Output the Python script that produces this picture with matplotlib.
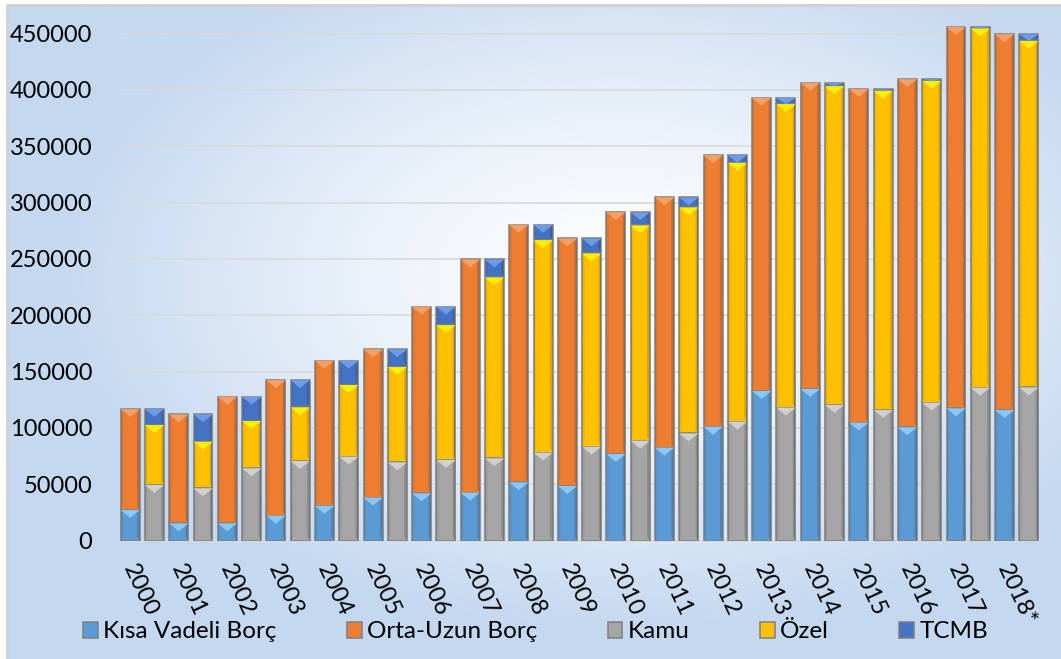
import numpy as np
import matplotlib.pyplot as plt
from matplotlib.patches import Patch, Polygon
from matplotlib.transforms import ScaledTranslation

plt.rcParams['font.family'] = ['Lato', 'DejaVu Sans']

# External debt stock by maturity and by borrower (million USD)
years = ['2000', '2001', '2002', '2003', '2004', '2005', '2006', '2007', '2008', '2009',
         '2010', '2011', '2012', '2013', '2014', '2015', '2016', '2017', '2018*']
kisa_vadeli = [27200, 15400, 15400, 22200, 31000, 38200, 42000, 42600, 51800, 48500,
               76900, 82500, 101100, 132800, 134600, 104700, 100600, 117400, 115900]
orta_uzun = [89600, 96700, 112300, 120300, 128700, 131600, 165600, 207000, 228500, 219700,
             214600, 222100, 241000, 260200, 271700, 296000, 308900, 338500, 333500]
kamu = [49400, 46500, 64200, 70700, 74500, 69500, 71600, 73100, 78100, 83400,
        88700, 95200, 105600, 118000, 120400, 115900, 122400, 135700, 136000]
ozel = [53200, 41300, 42000, 47600, 63600, 84600, 119700, 160500, 188600, 171500,
        191000, 200500, 229700, 269400, 282900, 283300, 285600, 318800, 307500]
tcmb = [14200, 24300, 21500, 24200, 21600, 15700, 16300, 16000, 13600, 13300,
        11800, 8900, 6800, 5600, 3000, 1500, 1500, 1400, 5900]

# (fill colour, bevel highlight colour) per series
styles = {
    'Kısa Vadeli Borç': ('#5b9bd5', '#8cc8f6'),
    'Orta-Uzun Borç': ('#ed7d31', '#f6a068'),
    'Kamu': ('#a5a5a5', '#d0d0d0'),
    'Özel': ('#ffc000', '#fff000'),
    'TCMB': ('#4472c4', '#6e9ae6'),
}

fig = plt.figure(figsize=(10.61, 6.59), dpi=100)

# soft radial background panel
bg = fig.add_axes([7 / 1061, 0, 1 - 7 / 1061, 654 / 659], zorder=-10)
yy, xx = np.mgrid[0:1:300j, 0:1:500j]
r = np.sqrt(((xx - 0.58) / 0.75) ** 2 + ((yy - 0.42) / 0.75) ** 2)
r = np.clip(r / 0.72, 0, 1) ** 1.3
edge = np.array([196, 216, 240]) / 255
img = (1 - r[..., None]) * np.array([1.0, 1.0, 1.0]) + r[..., None] * edge
bg.imshow(img, aspect='auto', extent=[0, 1, 0, 1], origin='upper')
bg.set_xlim(0, 1)
bg.set_ylim(0, 1)
bg.axis('off')
bg.plot([0, 0, 1], [0, 1, 1], color='#d0d0d0', lw=2, clip_on=False)

ax = fig.add_axes([118 / 1061, 118.3 / 659, 923 / 1061, 529.7 / 659])
ax.patch.set_alpha(0)

n = len(years)
idx = np.arange(n)
x_left = idx * 2
x_right = idx * 2 + 1
width = 0.78
tri_h = 7000
strip = 0.11


def bevel_stack(xpos, series, names):
    bottom = np.zeros(n)
    for vals, name in zip(series, names):
        vals = np.array(vals, dtype=float)
        fill, light = styles[name]
        ax.bar(xpos, vals, width, bottom=bottom, color=fill, edgecolor='#7f7f7f',
               linewidth=1.1, zorder=3)
        for x, b, h in zip(xpos, bottom, vals):
            top = b + h
            th = min(tri_h, h)
            x0, x1 = x - width / 2, x + width / 2
            # darker sides
            ax.add_patch(Polygon([(x1 - strip, b + th * 0.5), (x1, b), (x1, top), (x1 - strip, top - th * 0.5)],
                                 closed=True, facecolor='black', alpha=0.14, lw=0, zorder=4))
            ax.add_patch(Polygon([(x0, b), (x0 + strip, b + th * 0.5), (x0 + strip, top - th * 0.5), (x0, top)],
                                 closed=True, facecolor='black', alpha=0.05, lw=0, zorder=4))
            # lit top facet
            ax.add_patch(Polygon([(x0, top), (x1, top), (x, top - th)],
                                 closed=True, facecolor=light, lw=0, zorder=4))
        bottom = bottom + vals


bevel_stack(x_left, [kisa_vadeli, orta_uzun], ['Kısa Vadeli Borç', 'Orta-Uzun Borç'])
bevel_stack(x_right, [kamu, ozel, tcmb], ['Kamu', 'Özel', 'TCMB'])

ax.set_xlim(-0.5, 2 * n - 0.5)
ax.set_ylim(0, 470000)
ax.set_yticks(np.arange(0, 450001, 50000))
ax.set_yticklabels([str(v) for v in range(0, 450001, 50000)], fontsize=17)
ax.yaxis.grid(True, color='#d9d9d9', linewidth=1.2, zorder=0)
ax.set_axisbelow(True)
ax.tick_params(axis='y', length=0, pad=18.5)
ax.tick_params(axis='x', length=0, pad=0)
for s in ['top', 'right', 'left']:
    ax.spines[s].set_visible(False)
ax.spines['bottom'].set_color('#d9d9d9')
ax.spines['bottom'].set_linewidth(1.2)

ax.set_xticks(idx * 2 + 0.5)
ax.set_xticklabels(years, fontsize=17, rotation=-65, ha='left', va='center',
                   rotation_mode='anchor')
offset = ScaledTranslation(-14 / 100, -25 / 100, fig.dpi_scale_trans)
for lab in ax.get_xticklabels():
    lab.set_transform(lab.get_transform() + offset)

handles = [Patch(facecolor=styles[k][0], edgecolor='#7f7f7f', linewidth=1.1, label=k)
           for k in styles]
fig.legend(handles=handles, loc='center', bbox_to_anchor=(0.505, 0.041), ncol=5,
           frameon=False, fontsize=17.5, handlelength=0.6, handleheight=0.6,
           handletextpad=0.22, columnspacing=2.9)

fig.savefig('out.png', dpi=100)
